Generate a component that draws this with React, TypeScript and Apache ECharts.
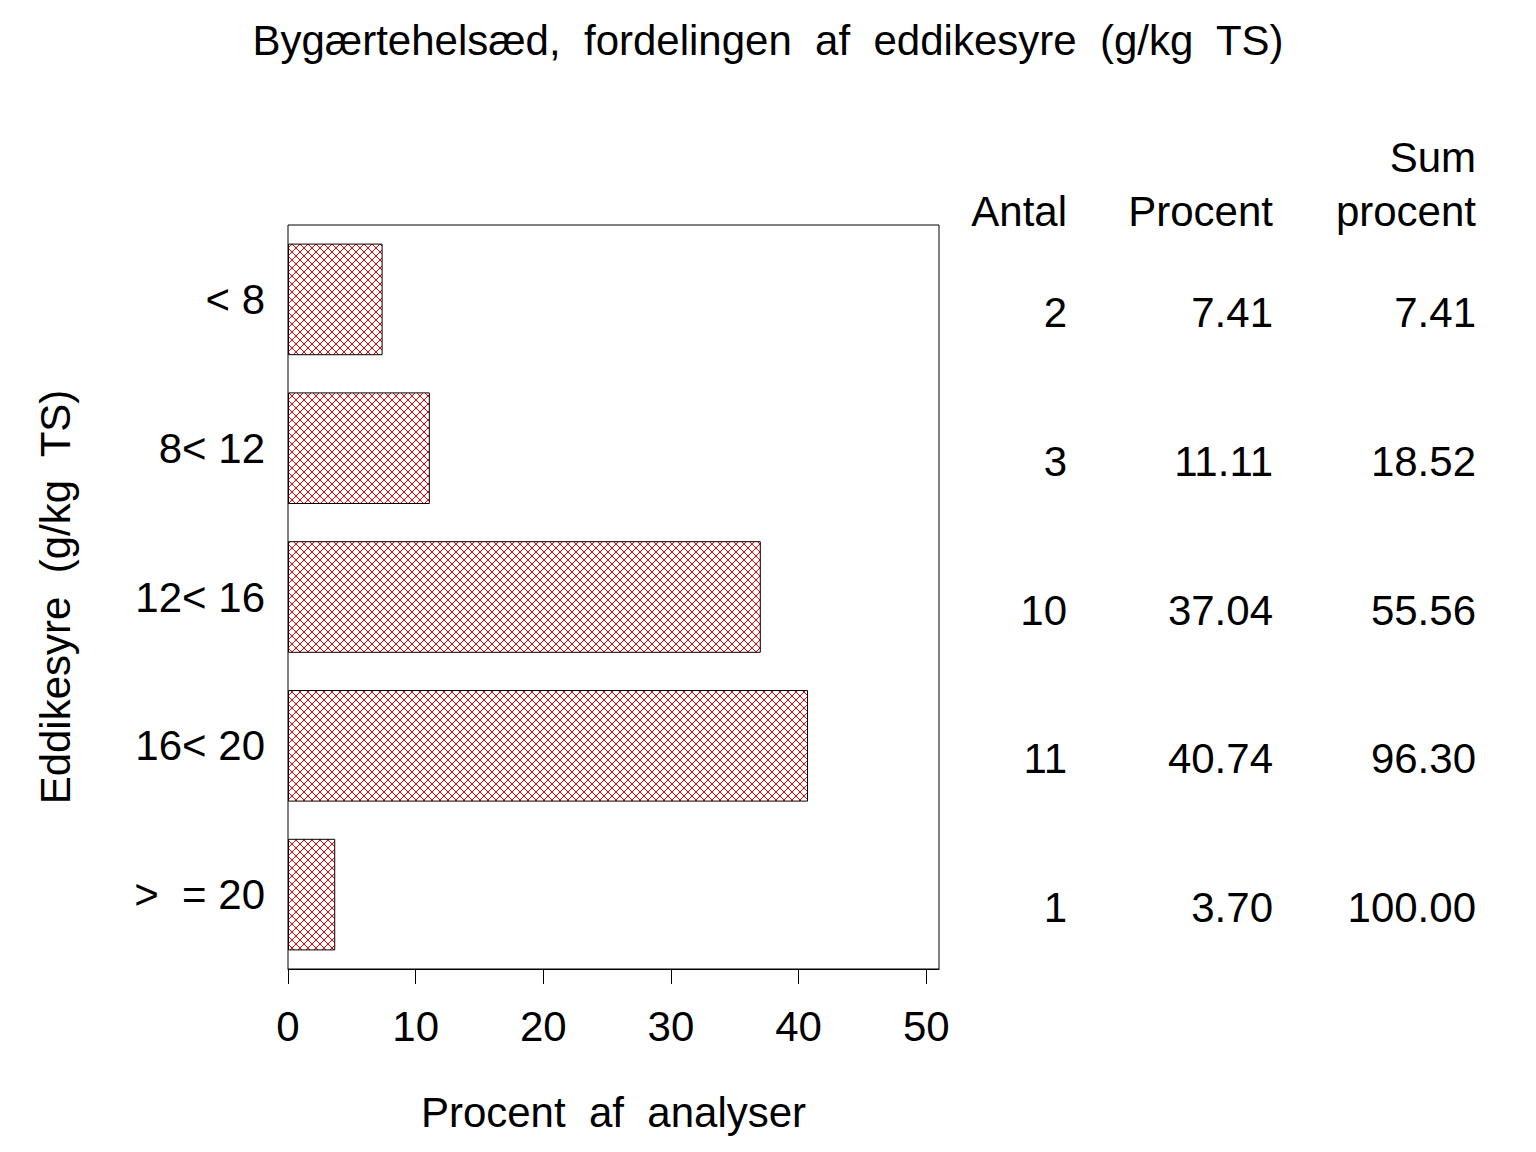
import React, { useEffect, useRef } from "react";
import * as echarts from "echarts";

const categories = ["< 8", "8< 12", "12< 16", "16< 20", ">  = 20"];
const percent = [7.41, 11.11, 37.04, 40.74, 3.7];
const antal = ["2", "3", "10", "11", "1"];
const procentText = ["7.41", "11.11", "37.04", "40.74", "3.70"];
const sumProcentText = ["7.41", "18.52", "55.56", "96.30", "100.00"];
const xTicks = [0, 10, 20, 30, 40, 50];

const FONT = "'Liberation Sans', Arial, sans-serif";
const FS = 42;

function makeHatch(): HTMLCanvasElement {
  const n = 8;
  const c = document.createElement("canvas");
  c.width = n;
  c.height = n;
  const ctx = c.getContext("2d")!;
  ctx.fillStyle = "#ffffff";
  ctx.fillRect(0, 0, n, n);
  ctx.fillStyle = "#ff0000";
  for (let i = 0; i < n; i++) {
    ctx.fillRect(i, i, 1, 1);
    ctx.fillRect(n - 1 - i, i, 1, 1);
  }
  return c;
}

export default function App() {
  const ref = useRef<HTMLDivElement>(null);
  useEffect(() => {
    if (!ref.current) return;
    const chart = echarts.init(ref.current, undefined, { renderer: "svg" });
    const hatch = makeHatch();
    const tableAxis = (labels: string[], margin: number) => ({
      type: "category",
      data: categories,
      inverse: true,
      position: "right",
      gridIndex: 0,
      axisLine: { show: false },
      axisTick: { show: false },
      splitLine: { show: false },
      axisLabel: {
        formatter: (_v: string, i: number) => labels[i],
        align: "right",
        verticalAlign: "top",
        lineHeight: 26,
        margin,
        fontSize: FS,
        fontFamily: FONT,
        color: "#000",
      },
    });
    const txt = (text: string, x: number, y: number) => ({
      type: "text",
      x,
      y,
      style: { text, fontSize: FS, fontFamily: FONT, fill: "#000", align: "right", verticalAlign: "middle" },
    });
    chart.setOption({
      animation: false,
      backgroundColor: "#ffffff",
      title: {
        text: "Bygærtehelsæd,  fordelingen  af  eddikesyre  (g/kg  TS)",
        left: "center",
        top: 14,
        textStyle: { fontSize: FS, fontWeight: "normal", fontFamily: FONT, color: "#000" },
      },
      grid: {
        left: 288,
        top: 225,
        width: 651,
        height: 744,
        show: true,
        borderColor: "#000",
        borderWidth: 1,
        backgroundColor: "transparent",
      },
      xAxis: {
        type: "value",
        min: 0,
        max: 51,
        interval: 10,
        name: "Procent  af  analyser",
        nameLocation: "middle",
        nameGap: 122,
        nameTextStyle: { fontSize: FS, fontFamily: FONT, color: "#000" },
        axisLine: { show: true, lineStyle: { color: "#000", width: 1 } },
        axisTick: { show: true, length: 15, lineStyle: { color: "#000" }, customValues: xTicks },
        axisLabel: { fontSize: FS, fontFamily: FONT, color: "#000", margin: 36, customValues: xTicks },
        splitLine: { show: false },
      },
      yAxis: [
        {
          type: "category",
          data: categories,
          inverse: true,
          position: "left",
          name: "Eddikesyre  (g/kg  TS)",
          nameLocation: "middle",
          nameRotate: 90,
          nameGap: 212,
          nameTextStyle: { fontSize: FS, fontFamily: FONT, color: "#000" },
          axisLine: { show: false },
          axisTick: { show: false },
          axisLabel: { fontSize: FS, fontFamily: FONT, color: "#000", margin: 23 },
        },
        tableAxis(antal, 128),
        tableAxis(procentText, 334),
        tableAxis(sumProcentText, 537),
      ],
      graphic: [
        txt("Sum", 1476, 157),
        txt("Antal", 1067, 211),
        txt("Procent", 1273, 211),
        txt("procent", 1476, 211),
      ],
      series: [
        {
          type: "bar",
          yAxisIndex: 0,
          data: percent,
          barCategoryGap: "25%",
          itemStyle: {
            color: { image: hatch, repeat: "repeat", imageWidth: 8, imageHeight: 8 },
            borderColor: "#000",
            borderWidth: 1,
          },
        },
      ],
    });
    return () => chart.dispose();
  }, []);
  return (
    <div
      ref={ref}
      style={{ position: "fixed", left: 0, top: 0, width: 1536, height: 1152, background: "#fff" }}
    />
  );
}
